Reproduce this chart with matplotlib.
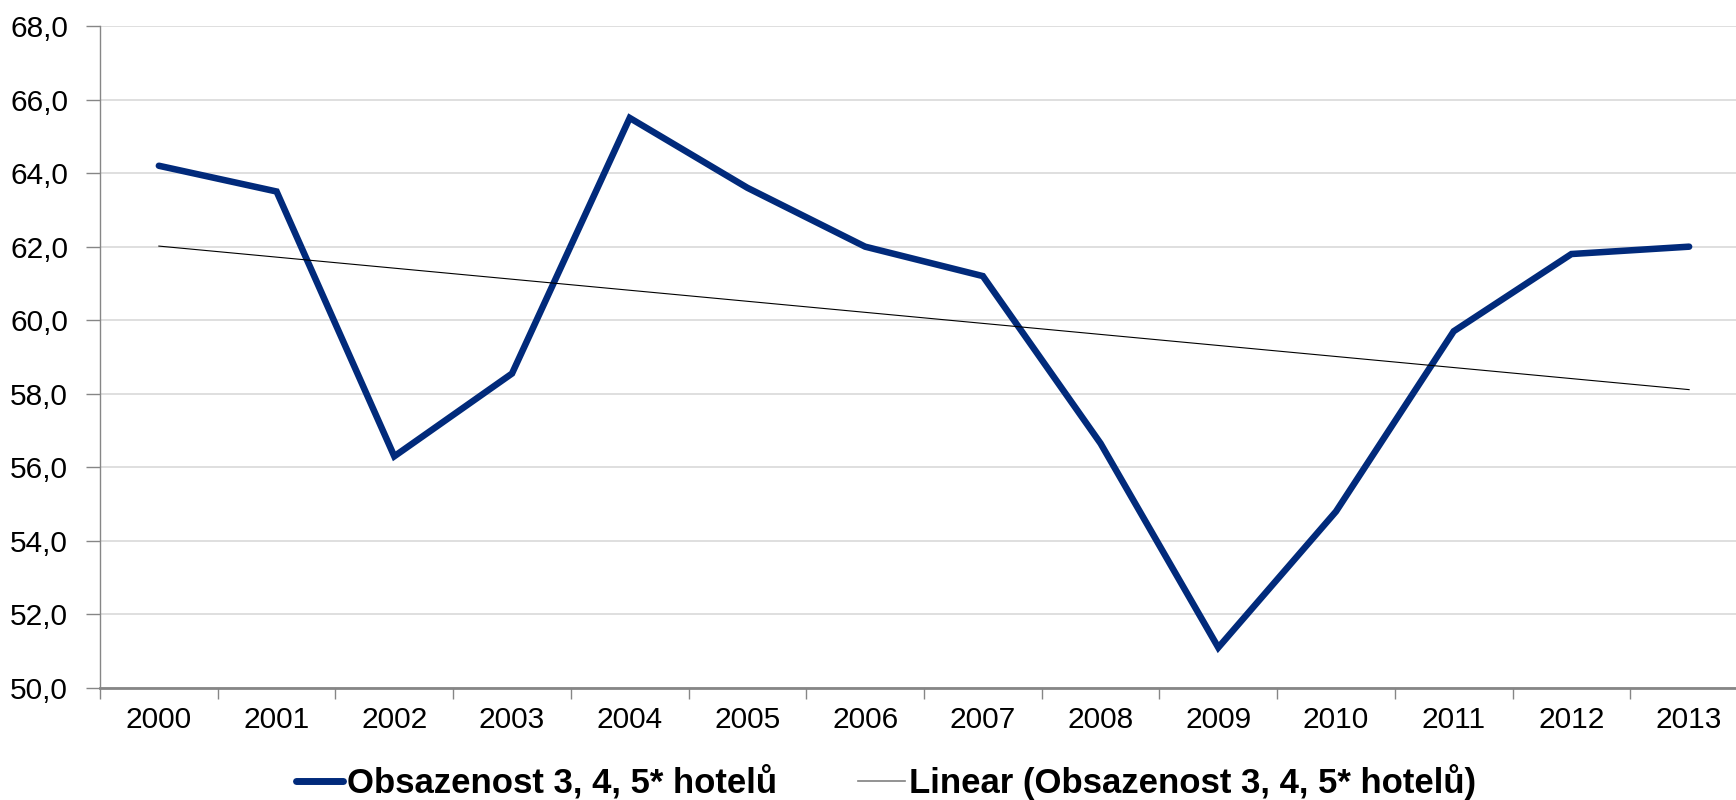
import matplotlib
matplotlib.use("Agg")
import matplotlib.pyplot as plt
import numpy as np
from matplotlib.ticker import FuncFormatter, MultipleLocator, FixedLocator

plt.rcParams['font.family'] = ['Liberation Sans', 'DejaVu Sans']

years = ['2000', '2001', '2002', '2003', '2004', '2005', '2006',
         '2007', '2008', '2009', '2010', '2011', '2012', '2013']
occupancy = [64.2, 63.5, 56.3, 58.55, 65.5, 63.6, 62.0,
             61.2, 56.65, 51.1, 54.8, 59.7, 61.8, 62.0]
series_label = 'Obsazenost 3, 4, 5* hotelů'
trend_label = 'Linear (Obsazenost 3, 4, 5* hotelů)'

W, H = 1736, 800
fig = plt.figure(figsize=(W / 100, H / 100), dpi=100)
left, right, top, bottom = 100, 1748, 26, 688
ax = fig.add_axes([left / W, (H - bottom) / H, (right - left) / W, (bottom - top) / H])

x = np.arange(len(years))
ax.set_xlim(-0.5, len(years) - 0.5)
ax.set_ylim(50, 68)

coef = np.polyfit(x, occupancy, 1)
trend = np.polyval(coef, x)

ax.yaxis.set_major_locator(MultipleLocator(2))
ax.grid(axis='y', color='#d9d9d9', linewidth=1.2)
ax.set_axisbelow(True)

navy = '#012a7b'
ax.plot(x, occupancy, color=navy, linewidth=4.7, solid_joinstyle='miter',
        solid_capstyle='round', zorder=3)
ax.plot(x, trend, color='#000000', linewidth=0.8, zorder=4)

ax.yaxis.set_major_formatter(FuncFormatter(lambda v, p: f'{v:.1f}'.replace('.', ',')))
ax.set_xticks(x)
ax.set_xticklabels(years)
ax.xaxis.set_minor_locator(FixedLocator(np.arange(-0.5, len(years), 1.0)))
ax.tick_params(axis='x', which='major', length=0, pad=13, labelsize=21.5)
ax.tick_params(axis='x', which='minor', length=8, width=1, color='#868686', direction='out')
ax.tick_params(axis='y', length=10, width=1, color='#868686', pad=13, labelsize=21.5)

for s in ['top', 'right']:
    ax.spines[s].set_visible(False)
ax.spines['left'].set_color('#868686')
ax.spines['left'].set_linewidth(1)
ax.spines['bottom'].set_color('#868686')
ax.spines['bottom'].set_linewidth(2)

h1 = plt.Line2D([], [], color=navy, linewidth=5, solid_capstyle='round')
h2 = plt.Line2D([], [], color='#808080', linewidth=1.2)
leg = fig.legend([h1, h2], [series_label, trend_label], ncol=2, loc='center',
                 bbox_to_anchor=(886 / W, 1 - 782 / H), frameon=False,
                 prop={'weight': 'bold', 'size': 25}, handlelength=1.35,
                 handletextpad=0.1, columnspacing=2.35, borderpad=0)

fig.savefig('out.png', dpi=100)
